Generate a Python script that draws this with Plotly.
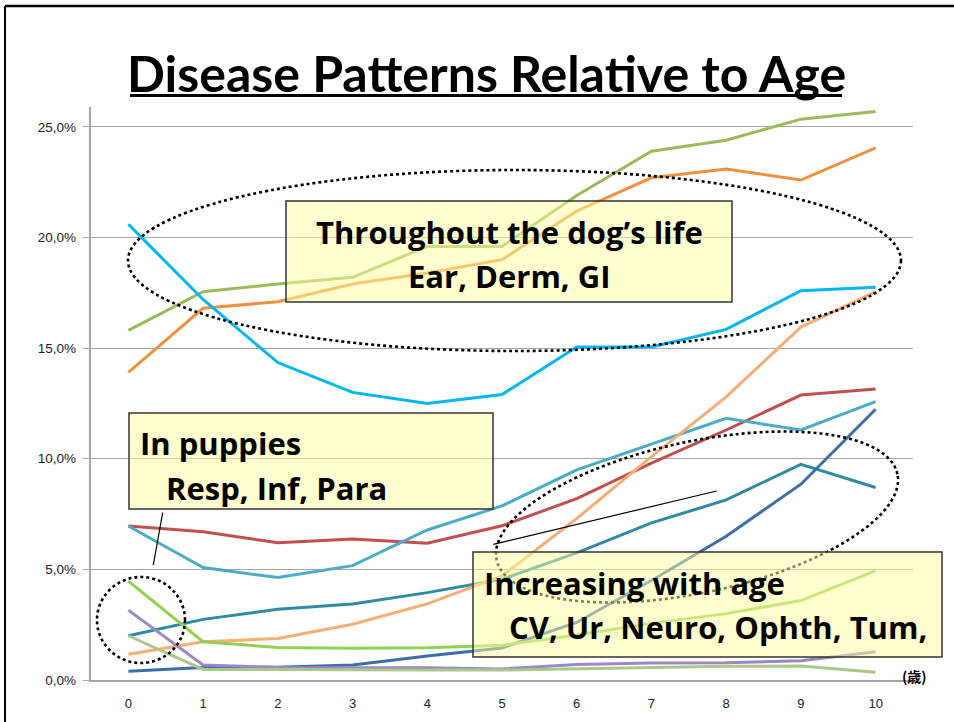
import numpy as np
import plotly.graph_objects as go

# ---------------- data (percent of dogs, by age in years) ----------------
ages = [0, 1, 2, 3, 4, 5, 6, 7, 8, 9, 10]
age_labels = ["0", "1", "2", "3", "4", "5", "6", "7", "8", "9", "10"]

ear = [15.8, 17.55, 17.9, 18.2, 19.6, 19.6, 21.9, 23.9, 24.4, 25.35, 25.7]
derm = [13.9, 16.8, 17.1, 17.9, 18.4, 19.0, 21.2, 22.7, 23.1, 22.6, 24.05]
gi = [20.6, 17.2, 14.35, 13.0, 12.5, 12.9, 15.05, 15.05, 15.85, 17.6, 17.75]

cv = [6.96, 6.7, 6.2, 6.37, 6.18, 6.97, 8.2, 9.8, 11.3, 12.88, 13.15]
ur = [6.96, 5.08, 4.63, 5.17, 6.78, 7.87, 9.5, 10.65, 11.83, 11.3, 12.58]
neuro = [2.0, 2.74, 3.2, 3.44, 3.95, 4.55, 5.75, 7.1, 8.14, 9.75, 8.7]
ophth = [0.4, 0.56, 0.58, 0.68, 1.08, 1.45, 2.6, 4.5, 6.5, 8.85, 12.24]
tum = [1.16, 1.73, 1.88, 2.52, 3.44, 4.7, 7.3, 10.1, 12.8, 15.95, 17.55]

resp = [4.47, 1.73, 1.47, 1.43, 1.46, 1.57, 2.03, 2.56, 3.0, 3.59, 4.94]
inf = [3.16, 0.68, 0.57, 0.56, 0.55, 0.5, 0.7, 0.77, 0.78, 0.87, 1.28]
para = [2.0, 0.48, 0.47, 0.45, 0.45, 0.45, 0.51, 0.55, 0.62, 0.63, 0.35]

series = [
    ("Ear", ear, "#9BBB59"),
    ("Derm", derm, "#F0913F"),
    ("GI", gi, "#00B7F0"),
    ("CV", cv, "#C0504D"),
    ("Ur", ur, "#4BACC6"),
    ("Neuro", neuro, "#2F8AA6"),
    ("Ophth", ophth, "#3E6EA8"),
    ("Tum", tum, "#F9AD76"),
    ("Resp", resp, "#92D050"),
    ("Inf", inf, "#9C89C4"),
    ("Para", para, "#ABC88A"),
]

# ---------------- geometry helpers (pixel -> paper) ----------------
W_, H_ = 954, 722
L, R, T, B = 91, 913, 107, 680


def px(x):
    return (x - L) / (R - L)


def py(y):
    return (B - y) / (B - T)


fig = go.Figure()
for name, vals, col in series:
    fig.add_trace(go.Scatter(
        x=ages, y=[v / 100 for v in vals], mode="lines", name=name,
        line=dict(color=col, width=3), showlegend=False, hoverinfo="skip"))

shapes = []
# frame lines
shapes.append(dict(type="line", xref="paper", yref="paper", x0=px(5), x1=px(954),
                   y0=py(6), y1=py(6), line=dict(color="black", width=2.5), layer="above"))
shapes.append(dict(type="line", xref="paper", yref="paper", x0=px(5), x1=px(5),
                   y0=py(6), y1=py(722), line=dict(color="black", width=2), layer="above"))
# title underline
shapes.append(dict(type="line", xref="paper", yref="paper", x0=px(130), x1=px(842),
                   y0=py(95.5), y1=py(95.5), line=dict(color="black", width=3), layer="above"))

dot = dict(color="black", width=2.6, dash="dot")
# top ellipse
shapes.append(dict(type="circle", xref="paper", yref="paper", x0=px(128), x1=px(901),
                   y0=py(351), y1=py(170), line=dot, layer="above"))
# small circle (puppies)
shapes.append(dict(type="circle", xref="paper", yref="paper", x0=px(97), x1=px(185),
                   y0=py(663), y1=py(577), line=dot, layer="above"))
# tilted ellipse (increasing with age)
cx, cy, a, b, th = 697, 517, 205, 75.6, np.deg2rad(12.1)
tt = np.linspace(0, 2 * np.pi, 121)
ex = cx + a * np.cos(tt) * np.cos(th) - b * np.sin(tt) * np.sin(th)
ey = cy - (a * np.cos(tt) * np.sin(th) + b * np.sin(tt) * np.cos(th))
path = "M " + " L ".join(f"{px(X):.5f},{py(Y):.5f}" for X, Y in zip(ex, ey)) + " Z"
shapes.append(dict(type="path", xref="paper", yref="paper", path=path, line=dot, layer="above"))

# pointer lines
shapes.append(dict(type="line", xref="paper", yref="paper", x0=px(162.7), y0=py(512.7),
                   x1=px(153.3), y1=py(565), line=dict(color="black", width=1.2), layer="above"))
shapes.append(dict(type="line", xref="paper", yref="paper", x0=px(493.3), y0=py(544.3),
                   x1=px(716.7), y1=py(491), line=dict(color="black", width=1.2), layer="above"))

box_fill = "rgba(255,253,160,0.5)"
box_line = dict(color="#333333", width=1.5)
for (x0, y0, x1, y1) in [(286, 201, 732, 302), (129, 413, 493, 509), (473, 552, 942, 657)]:
    shapes.append(dict(type="rect", xref="paper", yref="paper", x0=px(x0), x1=px(x1),
                       y0=py(y1), y1=py(y0), fillcolor=box_fill, line=box_line, layer="above"))

TITLE_FONT = "Lato"
BOX_FONT = "Open Sans"
annotations = []


def ann(text, x, y, size, xanchor="center", family=BOX_FONT, color="black"):
    annotations.append(dict(text=text, xref="paper", yref="paper", x=px(x), y=py(y),
                            xanchor=xanchor, yanchor="middle", showarrow=False,
                            font=dict(family=family, size=size, color=color)))


BS = 31
ann("<b>Disease Patterns Relative to Age</b>", 486, 73, 50, family=TITLE_FONT)
ann("<b>Throughout the dog’s life</b>", 509, 232, BS)
ann("<b>Ear, Derm, GI</b>", 509, 276, BS)
ann("<b>In puppies</b>", 138, 443, BS, "left")
ann("<b>Resp, Inf, Para</b>", 164, 488, BS, "left")
ann("<b>Increasing with age</b>", 482, 583, BS, "left")
ann("<b>CV, Ur, Neuro, Ophth, Tum,</b>", 507, 627, BS, "left")
ann("<b>(歳)</b>", 914, 676, 14, family="Noto Sans CJK JP")

grey = "#A6A6A6"
fig.update_layout(
    width=W_, height=H_,
    margin=dict(l=L, r=W_ - R, t=T, b=H_ - B, pad=0, autoexpand=False),
    paper_bgcolor="white", plot_bgcolor="white",
    separators=",.",
    shapes=shapes, annotations=annotations,
    xaxis=dict(range=[-0.5, 10.5], tickmode="array", tickvals=ages, ticktext=age_labels,
               showgrid=False, zeroline=False, showline=True, linecolor=grey, linewidth=1.5,
               ticks="", ticklabelstandoff=11, automargin=False,
               tickfont=dict(family="Liberation Sans, Arial", size=13, color="#222")),
    yaxis=dict(range=[0, 0.259], dtick=0.05, tickformat=".1%", ticksuffix="\u00a0\u00a0",
               showgrid=True,
               gridcolor=grey, gridwidth=1.3, zeroline=False, showline=True,
               linecolor=grey, linewidth=1.5, ticks="outside", ticklen=6, tickcolor=grey,
               ticklabelstandoff=-3, automargin=False,
               tickfont=dict(family="Liberation Sans, Arial", size=13.5, color="#222")),
)

fig.write_html("out.html", config={"displayModeBar": False},
               post_script="document.body.style.margin='0';document.body.style.padding='0';")
